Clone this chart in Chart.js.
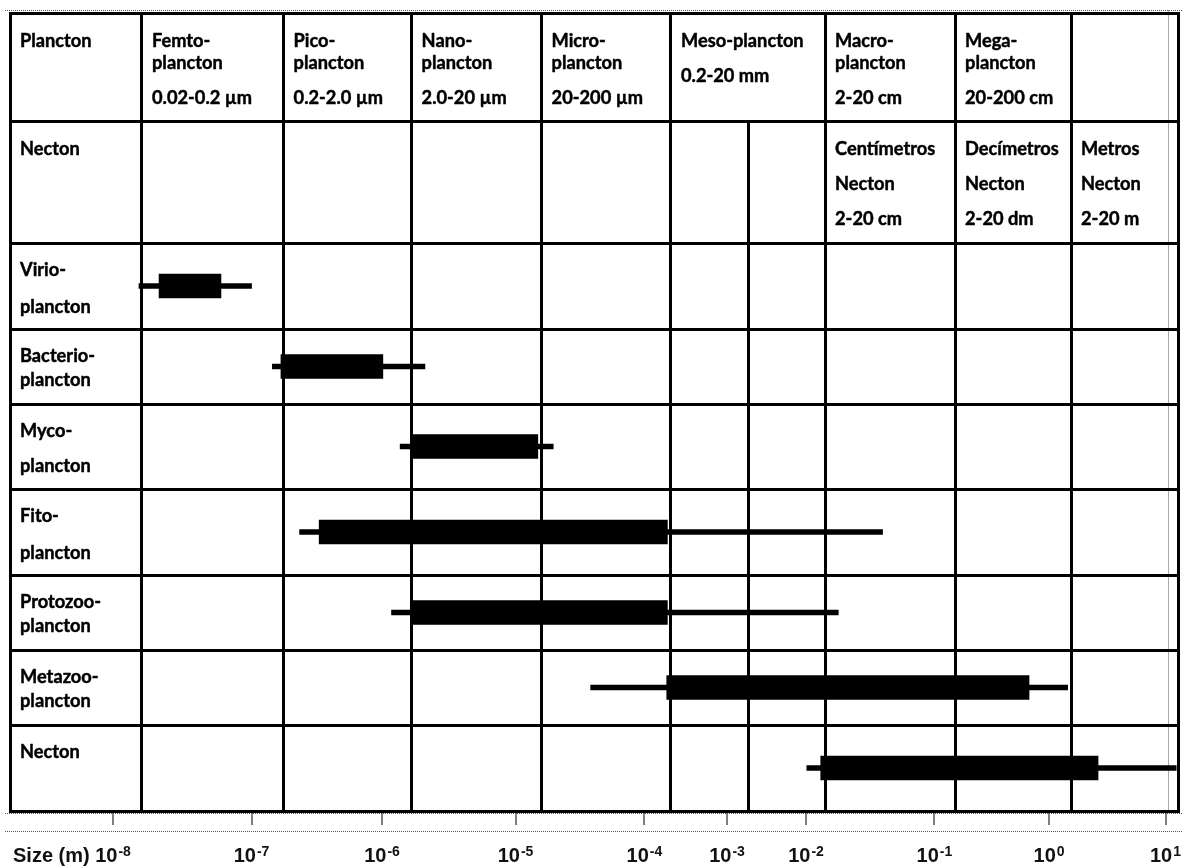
<!DOCTYPE html>
<html>
<head>
<meta charset="utf-8">
<script src="https://cdn.jsdelivr.net/npm/chart.js@4.4.1/dist/chart.umd.min.js"></script>
<style>
  html, body { margin: 0; padding: 0; background: #fff; }
  canvas { display: block; }
</style>
</head>
<body>
<canvas id="chart" width="1183" height="867"></canvas>
<script>
// Size classes of plankton and necton on a segmented logarithmic size axis (metres).

const headerRows = ['Plancton', 'Necton'];
const organisms = ['Virio-plancton', 'Bacterio-plancton', 'Myco-plancton', 'Fito-plancton',
                   'Protozoo-plancton', 'Metazoo-plancton', 'Necton'];

// full size span of each group (thin line), metres
const rangeMin = [1.86e-8, 1.57e-7, 1.53e-6, 2.6e-7, 1.25e-6, 4.31e-5, 1.03e-2];
const rangeMax = [1.0e-7, 2.46e-6, 2.4e-5, 4.66e-2, 2.43e-2, 1.8, 12];
// usual size span of each group (thick bar), metres
const coreMin = [2.57e-8, 1.89e-7, 2.0e-6, 3.58e-7, 2.0e-6, 1.79e-4, 1.71e-2];
const coreMax = [6.38e-8, 1.02e-6, 1.81e-5, 1.82e-4, 1.82e-4, 0.71, 3.17];

// plankton size classes (header row)
const planktonClassNames = [['Femto-', 'plancton'], ['Pico-', 'plancton'], ['Nano-', 'plancton'],
                            ['Micro-', 'plancton'], ['Meso-plancton'], ['Macro-', 'plancton'], ['Mega-', 'plancton']];
const planktonClassRanges = ['0.02-0.2 µm', '0.2-2.0 µm', '2.0-20 µm', '20-200 µm', '0.2-20 mm', '2-20 cm', '20-200 cm'];
const planktonClassStart = [2e-8, 2e-7, 2e-6, 2e-5, 2e-4, 2e-2, 2e-1, 2];

// necton size classes (second row)
const nectonClassNames = ['Centímetros', 'Decímetros', 'Metros'];
const nectonClassRanges = ['2-20 cm', '2-20 dm', '2-20 m'];
const nectonClassStart = [2e-2, 2e-1, 2];

// column boundaries of the body rows
const sizeBounds = [2e-8, 2e-7, 2e-6, 2e-5, 2e-4, 2e-3, 2e-2, 2e-1, 2];

// axis ticks (powers of ten) and title
const tickExponents = [-8, -7, -6, -5, -4, -3, -2, -1, 0, 1];
const axisTitle = 'Size (m)';

// ---------------------------------------------------------------------------
// Log axis whose decades have individual widths: position is interpolated in
// log10 space between the stops [exponent, fraction of axis length].
class SegmentedLogScale extends Chart.LogarithmicScale {
  static id = 'segmentedLog';
  static defaults = {};
  _stops() { return this.options.stops; }
  getPixelForValue(value) {
    if (value === null || value === undefined || !(value > 0)) return NaN;
    const s = this._stops();
    const e = Math.log10(value);
    let i = 0;
    while (i < s.length - 2 && e > s[i + 1][0]) i++;
    const [e0, f0] = s[i], [e1, f1] = s[i + 1];
    return this.getPixelForDecimal(f0 + (e - e0) * (f1 - f0) / (e1 - e0));
  }
  getValueForPixel(pixel) {
    const s = this._stops();
    const f = this.getDecimalForPixel(pixel);
    let i = 0;
    while (i < s.length - 2 && f > s[i + 1][1]) i++;
    const [e0, f0] = s[i], [e1, f1] = s[i + 1];
    return Math.pow(10, e0 + (f - f0) * (e1 - e0) / (f1 - f0));
  }
}

// Category axis whose rows have individual heights.
class TableRowScale extends Chart.CategoryScale {
  static id = 'tableRows';
  static defaults = {};
  rowEdges() {
    const h = this.options.rowHeights;
    const total = h.reduce((s, v) => s + v, 0);
    const k = (this.bottom - this.top) / total;
    const edges = [this.top];
    h.forEach(v => edges.push(edges[edges.length - 1] + v * k));
    return edges;
  }
  getPixelForValue(value) {
    const i = typeof value === 'number' ? value : this.parse(value);
    const e = this.rowEdges();
    return (e[i] + e[i + 1]) / 2;
  }
  getPixelForTick(index) {
    return this.getPixelForValue(this.ticks[index].value);
  }
}

Chart.register(SegmentedLogScale, TableRowScale);

// ---------------------------------------------------------------------------
const crisp = v => Math.round(v - 0.5) + 0.5;

function strokeSeg(ctx, x1, y1, x2, y2) {
  ctx.beginPath();
  ctx.moveTo(x1, y1);
  ctx.lineTo(x2, y2);
  ctx.stroke();
}

let cellFontSize = null;
function cellFont(ctx, o) {
  if (cellFontSize === null) {
    ctx.save();
    ctx.font = 'bold 20px ' + o.cellFamily;
    const w = ctx.measureText('plancton').width;
    ctx.restore();
    cellFontSize = 20 * o.sampleWidth / w;
  }
  return 'bold ' + cellFontSize.toFixed(2) + 'px ' + o.cellFamily;
}

// filled text with a thin outline in the same colour for a heavier weight
function heavyText(ctx, t, x, y) {
  ctx.fillText(t, x, y);
  ctx.strokeText(t, x, y);
}

const sizeTable = {
  id: 'sizeTable',
  beforeDatasetsDraw(chart, args, o) {
    const { ctx, chartArea: a, scales: { x, y } } = chart;
    const rows = y.rowEdges();
    const top = rows[0], bottom = rows[rows.length - 1];
    ctx.save();

    // dotted frame and axis rules
    ctx.strokeStyle = o.dotColor;
    ctx.lineWidth = 1;
    ctx.setLineDash([1, 1]);
    strokeSeg(ctx, 5, crisp(top - 2.5), chart.width, crisp(top - 2.5));
    strokeSeg(ctx, crisp(a.right - 9.5), top - 2.5, crisp(a.right - 9.5), bottom + 2);
    strokeSeg(ctx, 5, crisp(bottom + 2.5), chart.width, crisp(bottom + 2.5));
    strokeSeg(ctx, 5, crisp(bottom + 20.5), chart.width, crisp(bottom + 20.5));
    ctx.setLineDash([]);

    // table rules
    ctx.strokeStyle = o.lineColor;
    ctx.lineWidth = 3;
    const L = crisp(a.left), R = crisp(a.right);
    rows.forEach(r => strokeSeg(ctx, L - 1.5, crisp(r), R + 1.5, crisp(r)));
    strokeSeg(ctx, L, crisp(top) - 1.5, L, crisp(bottom) + 1.5);
    strokeSeg(ctx, R, crisp(top) - 1.5, R, crisp(bottom) + 1.5);
    planktonClassStart.forEach(v => {
      const px = crisp(x.getPixelForValue(v));
      strokeSeg(ctx, px, crisp(rows[0]), px, crisp(rows[1]));
    });
    sizeBounds.forEach(v => {
      const px = crisp(x.getPixelForValue(v));
      strokeSeg(ctx, px, crisp(rows[1]), px, crisp(bottom));
    });
    ctx.restore();
  },
  afterDraw(chart, args, o) {
    const { ctx, chartArea: a, scales: { x, y } } = chart;
    const rows = y.rowEdges();
    ctx.save();
    ctx.fillStyle = o.textColor;
    ctx.strokeStyle = o.textColor;
    ctx.lineWidth = o.textStroke;
    ctx.lineJoin = 'round';
    ctx.font = cellFont(ctx, o);
    ctx.textBaseline = 'middle';
    ctx.textAlign = 'left';
    const textX = a.left + o.cellIndent;

    // header row: plankton classes
    heavyText(ctx, headerRows[0], textX, rows[0] + o.headFirst);
    planktonClassNames.forEach((lines, i) => {
      const cx = x.getPixelForValue(planktonClassStart[i]) + o.cellIndent;
      let ly = rows[0] + o.headFirst;
      lines.forEach((t, k) => {
        if (k > 0) ly += o.tightGap;
        heavyText(ctx, t, cx, ly);
      });
      heavyText(ctx, planktonClassRanges[i], cx, ly + o.looseGap);
    });

    // second row: necton classes
    heavyText(ctx, headerRows[1], textX, rows[1] + o.headFirst);
    nectonClassNames.forEach((name, i) => {
      const cx = x.getPixelForValue(nectonClassStart[i]) + o.cellIndent;
      [name, headerRows[1], nectonClassRanges[i]].forEach((t, k) => {
        heavyText(ctx, t, cx, rows[1] + o.headFirst + k * o.looseGap);
      });
    });

    // body rows: group names
    organisms.forEach((name, i) => {
      const r = i + headerRows.length;
      name.split(/(?<=-)/).forEach((t, k) => {
        heavyText(ctx, t, textX, rows[r] + o.rowFirst + k * o.labelGaps[i]);
      });
    });

    // axis labels: 10 with superscript exponent, centred on each tick
    ctx.textBaseline = 'alphabetic';
    ctx.fillStyle = o.axisTextColor;
    const baseFont = 'bold ' + o.axisSize + 'px ' + o.axisFamily;
    const supFont = 'bold ' + o.supSize + 'px ' + o.axisFamily;
    const baseY = a.bottom + o.labelOffset;
    tickExponents.forEach(e => {
      const px = x.getPixelForValue(Math.pow(10, e));
      ctx.font = baseFont;
      const wb = ctx.measureText('10').width;
      ctx.font = supFont;
      const sup = String(e);
      const ws = ctx.measureText(sup).width;
      const x0 = px - (wb + 1 + ws) / 2;
      ctx.font = baseFont;
      ctx.fillText('10', x0, baseY);
      ctx.font = supFont;
      ctx.fillText(sup, x0 + wb + 1, baseY - o.supRaise);
    });
    ctx.font = baseFont;
    ctx.fillText(axisTitle, 13, baseY);
    ctx.restore();
  }
};

const withHeaderGap = pairs => headerRows.map(() => null).concat(pairs);

new Chart(document.getElementById('chart'), {
  type: 'bar',
  data: {
    labels: headerRows.concat(organisms),
    datasets: [
      {
        label: 'Usual size',
        data: withHeaderGap(coreMin.map((v, i) => [v, coreMax[i]])),
        backgroundColor: '#000',
        barThickness: 24,
        grouped: false,
        order: 0
      },
      {
        label: 'Size range',
        data: withHeaderGap(rangeMin.map((v, i) => [v, rangeMax[i]])),
        backgroundColor: '#000',
        barThickness: 5,
        grouped: false,
        order: 1
      }
    ]
  },
  options: {
    indexAxis: 'y',
    responsive: false,
    animation: false,
    events: [],
    layout: { padding: { left: 10, right: 5, top: 13, bottom: 0 } },
    plugins: {
      legend: { display: false },
      tooltip: { enabled: false },
      sizeTable: {
        dotColor: '#555',
        lineColor: '#000',
        textColor: '#000',
        textStroke: 0.45,
        axisTextColor: '#111',
        cellFamily: 'Lato',
        sampleWidth: 70.7,
        cellIndent: 10,
        headFirst: 28,
        tightGap: 22.5,
        looseGap: 35,
        rowFirst: 27,
        labelGaps: [36.7, 24, 35.6, 37, 24.3, 24, 0],
        axisFamily: '"Liberation Sans", Arial, sans-serif',
        axisSize: 20,
        supSize: 14,
        supRaise: 6,
        labelOffset: 51
      }
    },
    scales: {
      x: {
        type: 'segmentedLog',
        min: 8e-10,
        max: 13,
        stops: [[-8, 0.0882], [-7.699, 0.1130], [-7, 0.2068], [-6.699, 0.2342], [-6, 0.3185],
                [-5.699, 0.3438], [-5, 0.4328], [-4.699, 0.4551], [-4, 0.5432], [-3.699, 0.5659],
                [-3, 0.6139], [-2.699, 0.6327], [-2, 0.6815], [-1.699, 0.6978], [-1, 0.7915],
                [-0.699, 0.8091], [0, 0.8896], [0.301, 0.9084], [1, 0.9893]],
        afterBuildTicks: s => { s.ticks = tickExponents.map(e => ({ value: Math.pow(10, e) })); },
        afterFit: s => { s.height = 56; },
        ticks: { display: false },
        grid: {
          drawOnChartArea: false,
          drawTicks: true,
          tickLength: 14,
          tickWidth: 2,
          tickColor: '#7f7f7f',
          lineWidth: 2
        },
        border: { display: false }
      },
      y: {
        type: 'tableRows',
        display: false,
        rowHeights: [108.5, 121.5, 86, 75, 85, 86, 75, 75, 86]
      }
    }
  },
  plugins: [sizeTable]
});
</script>
</body>
</html>
